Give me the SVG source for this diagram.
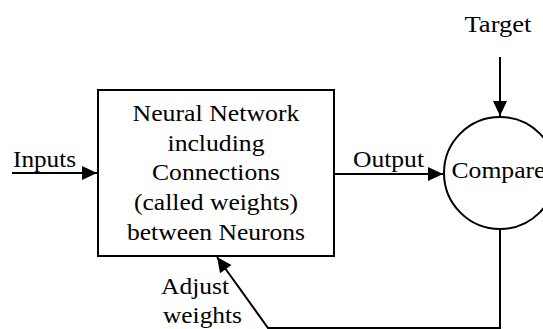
<svg xmlns="http://www.w3.org/2000/svg" width="543" height="329" viewBox="0 0 543 329">
<style>
text{font-family:"Liberation Serif","Times New Roman",serif;font-size:23px;fill:#000}
.c{text-anchor:middle}
.shape{fill:#fff;stroke:#000;stroke-width:2}
.conn{fill:none;stroke:#000;stroke-width:2}
</style>
<defs>
<marker id="ah" markerUnits="userSpaceOnUse" markerWidth="16" markerHeight="14" refX="15" refY="7" orient="auto" overflow="visible">
<path d="M0,0 L15,7 L0,14 z" fill="#000"/>
</marker>
</defs>
<rect width="543" height="329" fill="#fff"/>
<g id="connectors">
<path class="conn" d="M12,173 H97" marker-end="url(#ah)"/>
<path class="conn" d="M334,174 H443" marker-end="url(#ah)"/>
<path class="conn" d="M500,57 V116" marker-end="url(#ah)"/>
<path class="conn" d="M500,229 V328 H268 L217,257" marker-end="url(#ah)"/>
</g>
<g id="network">
<rect class="shape" x="98" y="90" width="236" height="166"/>
<text class="c" x="216" y="121" textLength="167" lengthAdjust="spacingAndGlyphs">Neural Network</text>
<text class="c" x="216" y="151" textLength="97" lengthAdjust="spacingAndGlyphs">including</text>
<text class="c" x="216" y="180" textLength="128" lengthAdjust="spacingAndGlyphs">Connections</text>
<text class="c" x="216" y="210" textLength="164" lengthAdjust="spacingAndGlyphs">(called weights)</text>
<text class="c" x="216" y="240" textLength="178" lengthAdjust="spacingAndGlyphs">between Neurons</text>
</g>
<g id="compare">
<circle class="shape" cx="500" cy="173" r="56"/>
<text class="c" x="498.5" y="178" textLength="94" lengthAdjust="spacingAndGlyphs">Compare</text>
</g>
<g id="labels">
<text x="13" y="167" textLength="63" lengthAdjust="spacingAndGlyphs">Inputs</text>
<text x="353" y="167" textLength="71" lengthAdjust="spacingAndGlyphs">Output</text>
<text class="c" x="498" y="32" textLength="67" lengthAdjust="spacingAndGlyphs">Target</text>
<text x="161" y="294" textLength="68" lengthAdjust="spacingAndGlyphs">Adjust</text>
<text x="163" y="323" textLength="79" lengthAdjust="spacingAndGlyphs">weights</text>
</g>
</svg>
